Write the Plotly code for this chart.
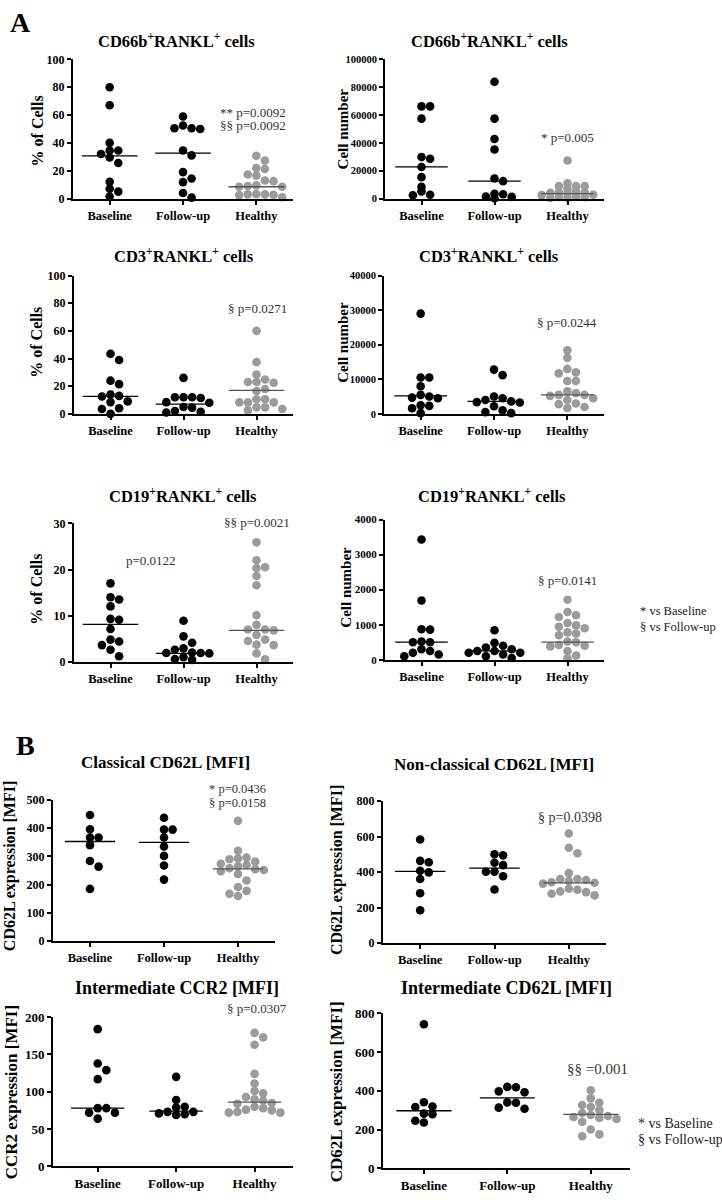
import plotly.graph_objects as go

W, H = 722, 1200
groups = ["Baseline", "Follow-up", "Healthy"]

# ---------------- data ----------------
p1_baseline = [80, 67, 40, 34.5, 34.5, 32, 29.5, 25.5, 12, 7, 5, 1.5]
p1_followup = [59, 52.5, 50.5, 50, 50.5, 34.5, 31, 19, 14.4, 11.8, 4, 0.7]
p1_healthy = [30.7, 27.4, 22, 21.3, 17.3, 16.5, 13, 12.5, 9.5, 9, 8.5, 8.5, 3.2, 3, 3, 2.8, 2.5, 1]
p1_median = [30.7, 32.7, 8.5]

p2_baseline = [66200, 66200, 57400, 29800, 28600, 22700, 15400, 8500, 5200, 2800, 2400]
p2_followup = [83900, 57400, 42800, 35200, 14400, 12500, 3500, 3100, 1400, 1200, 200]
p2_healthy = [27400, 10900, 9000, 9000, 9000, 7100, 5500, 4500, 4300, 4200, 4000, 2800, 2500, 1500, 1200, 1000, 700, 400]
p2_median = [22700, 12500, 3500]

p3_baseline = [43.5, 39, 24, 21.5, 14, 13, 12.5, 9, 8.5, 4, 3.5, 0]
p3_followup = [26, 12, 12, 12, 11.5, 8.5, 8, 5, 4.5, 2, 1.5, 1]
p3_healthy = [60, 37.4, 28.4, 24.8, 23, 23, 22.5, 18, 16.5, 10.6, 10.6, 8.3, 8.3, 8.3, 4.7, 4.7, 3.5, 2.5]
p3_median = [12.7, 7, 17]

p4_baseline = [29000, 10500, 10500, 8000, 5500, 5000, 4700, 4500, 2500, 2300, 1600, 200]
p4_followup = [12800, 11200, 5000, 4500, 4000, 3600, 3400, 3300, 2200, 1000, 500, 200]
p4_healthy = [18400, 16200, 13000, 12000, 11700, 9500, 9500, 6500, 6000, 5500, 5500, 5200, 4500, 4000, 3000, 2800, 2000, 1700]
p4_median = [5200, 3600, 5500]

p5_baseline = [17, 14, 13.5, 12, 9.3, 9.1, 7.1, 4.8, 4.4, 3.6, 2.6, 1.2]
p5_followup = [8.9, 5.5, 4.1, 2.9, 2.6, 2.0, 1.9, 1.9, 1.8, 1.0, 0.6, 0.4]
p5_healthy = [25.9, 22, 20.5, 20.3, 18.6, 16.6, 10.1, 8, 7, 7, 6.8, 5.8, 4.8, 4.5, 3.7, 3.6, 1.8, 0.5]
p5_median = [8.1, 1.8, 6.8]

p6_baseline = [3430, 1690, 870, 860, 520, 500, 500, 300, 250, 200, 150, 100]
p6_followup = [840, 480, 400, 350, 300, 250, 250, 200, 200, 150, 100, 50]
p6_healthy = [1710, 1360, 1270, 1220, 1050, 980, 940, 900, 780, 750, 700, 520, 500, 420, 400, 380, 250, 120, 40]
p6_median = [500, 250, 500]

p7_baseline = [447, 396, 367, 367, 340, 284, 264, 185]
p7_followup = [437, 395, 395, 367, 335, 302, 268, 218]
p7_healthy = [426, 320, 296, 293, 290, 282, 274, 270, 265, 258, 255, 252, 248, 238, 215, 192, 178, 168, 160]
p7_median = [353, 350, 256]

p8_baseline = [583, 463, 455, 407, 398, 361, 281, 185]
p8_followup = [500, 494, 452, 439, 402, 402, 376, 302]
p8_healthy = [617, 537, 506, 394, 361, 361, 355, 350, 343, 340, 335, 306, 300, 291, 287, 278, 269]
p8_median = [404, 422, 339]

p9_baseline = [184, 138, 129, 117, 78, 78, 72, 72, 64]
p9_followup = [120, 89, 80, 79, 73, 73, 71, 70, 69]
p9_healthy = [179, 173, 163, 124, 111, 101, 98, 93, 90, 88, 85, 84, 80, 78, 76, 75, 73, 72, 72]
p9_median = [78, 74, 86]

p10_baseline = [743, 341, 319, 316, 282, 279, 245, 236]
p10_followup = [420, 418, 397, 392, 340, 338, 313, 307]
p10_healthy = [403, 361, 338, 327, 316, 300, 285, 275, 270, 265, 260, 255, 240, 200, 175, 165]
p10_median = [297, 363, 278]

y_ticks_pct = [0, 20, 40, 60, 80, 100]
y_ticks_p2 = [0, 20000, 40000, 60000, 80000, 100000]
y_ticks_p4 = [0, 10000, 20000, 30000, 40000]
y_ticks_p5 = [0, 10, 20, 30]
y_ticks_p6 = [0, 1000, 2000, 3000, 4000]
y_ticks_p7 = [0, 100, 200, 300, 400, 500]
y_ticks_800 = [0, 200, 400, 600, 800]
y_ticks_p9 = [0, 50, 100, 150, 200]

# ---------------- layout of panels (pixel geometry) ----------------
SUP = "<sup>+</sup>"
panels = [
    dict(d=(p1_baseline, p1_followup, p1_healthy), m=p1_median, ticks=y_ticks_pct, yfs=12, ov=0.8,
         x0=73, x1=293, yt=53, yb=194, xr=(-0.5, 2.5), hw=0.38,
         title="CD66b" + SUP + "RANKL" + SUP + " cells", tpos=(176, 34), tsize=16.5,
         ytitle="% of Cells", ytpos=(37, 126), ytsize=16,
         notes=[("** p=0.0092", 288, 107, "right", 13), ("§§ p=0.0092", 288, 120, "right", 13)]),
    dict(d=(p2_baseline, p2_followup, p2_healthy), m=p2_median, ticks=y_ticks_p2, yfs=10.5, ov=0.5,
         x0=385, x1=604, yt=53, yb=194, xr=(-0.5, 2.5), hw=0.36,
         title="CD66b" + SUP + "RANKL" + SUP + " cells", tpos=(490, 34), tsize=16.5,
         ytitle="Cell number", ytpos=(343, 124), ytsize=15,
         notes=[("* p=0.005", 567, 132, "center", 13)]),
    dict(d=(p3_baseline, p3_followup, p3_healthy), m=p3_median, ticks=y_ticks_pct, yfs=12, ov=0.86,
         x0=74, x1=293, yt=272, yb=412, xr=(-0.5, 2.5), hw=0.38,
         title="CD3" + SUP + "RANKL" + SUP + " cells", tpos=(184, 252), tsize=16.5,
         ytitle="% of Cells", ytpos=(37, 340), ytsize=16,
         notes=[("§ p=0.0271", 257, 305, "center", 13)]),
    dict(d=(p4_baseline, p4_followup, p4_healthy), m=p4_median, ticks=y_ticks_p4, yfs=10.5, ov=0.86,
         x0=384, x1=604, yt=272, yb=412, xr=(-0.5, 2.5), hw=0.36,
         title="CD3" + SUP + "RANKL" + SUP + " cells", tpos=(489, 252), tsize=16.5,
         ytitle="Cell number", ytpos=(343, 340), ytsize=15,
         notes=[("§ p=0.0244", 567, 320, "center", 13)]),
    dict(d=(p5_baseline, p5_followup, p5_healthy), m=p5_median, ticks=y_ticks_p5, yfs=12, ov=0.86,
         x0=74, x1=293, yt=523, yb=663, xr=(-0.5, 2.5), hw=0.38,
         title="CD19" + SUP + "RANKL" + SUP + " cells", tpos=(183, 495), tsize=16.5,
         ytitle="% of Cells", ytpos=(37, 590), ytsize=16,
         notes=[("p=0.0122", 151, 561, "center", 13), ("§§ p=0.0021", 257, 522, "center", 13)]),
    dict(d=(p6_baseline, p6_followup, p6_healthy), m=p6_median, ticks=y_ticks_p6, yfs=11, ov=0.86,
         x0=385, x1=604, yt=519, yb=661, xr=(-0.5, 2.5), hw=0.36,
         title="CD19" + SUP + "RANKL" + SUP + " cells", tpos=(492, 495), tsize=16.5,
         ytitle="Cell number", ytpos=(346, 588), ytsize=15,
         notes=[("§ p=0.0141", 567, 581, "center", 13)]),
    dict(d=(p7_baseline, p7_followup, p7_healthy), m=p7_median, ticks=y_ticks_p7, yfs=12, ov=0.86,
         x0=53, x1=275, yt=803, yb=946, xr=(-0.5, 2.5), hw=0.34,
         title="Classical CD62L [MFI]", tpos=(165, 765), tsize=17,
         ytitle="CD62L expression [MFI]", ytpos=(10, 870), ytsize=16,
         notes=[("* p=0.0436", 268, 792, "right", 12.5), ("§ p=0.0158", 268, 806, "right", 12.5)]),
    dict(d=(p8_baseline, p8_followup, p8_healthy), m=p8_median, ticks=y_ticks_800, yfs=12, ov=0.86,
         x0=383, x1=606, yt=804, yb=948, xr=(-0.5, 2.5), hw=0.34,
         title="Non-classical CD62L [MFI]", tpos=(494, 767), tsize=17,
         ytitle="CD62L expression [MFI]", ytpos=(337, 874), ytsize=16,
         notes=[("§ p=0.0398", 570, 821, "center", 14)]),
    dict(d=(p9_baseline, p9_followup, p9_healthy), m=p9_median, ticks=y_ticks_p9, yfs=13, ov=0.86,
         x0=53, x1=293, yt=1023, yb=1174, xr=(-0.57, 2.49), hw=0.34,
         title="Intermediate CCR2 [MFI]", tpos=(177, 993), tsize=18,
         ytitle="CCR2 expression [MFI]", ytpos=(11, 1099), ytsize=17,
         notes=[("§ p=0.0307", 257, 1014, "center", 13)]),
    dict(d=(p10_baseline, p10_followup, p10_healthy), m=p10_median, ticks=y_ticks_800, yfs=13, ov=0.86,
         x0=383, x1=630, yt=1019, yb=1176, xr=(-0.49, 2.47), hw=0.33,
         title="Intermediate CD62L [MFI]", tpos=(506, 993), tsize=18,
         ytitle="CD62L expression [MFI]", ytpos=(336, 1099), ytsize=17,
         notes=[("§§ =0.001", 597, 1075, "center", 15)]),
]

DOT = 8.6
COLORS = ["#000000", "#000000", "#9b9b9b"]
LINECOLORS = ["#000000", "#000000", "#555555"]
SERIF = "Liberation Serif"


def swarm(values, center, ppx, ppy, ov):
    """Simple beeswarm: spread colliding points horizontally (pixel space)."""
    placed = []
    xs = [0.0] * len(values)
    order = sorted(range(len(values)), key=lambda i: -values[i])
    cands = [0]
    for j in range(1, 15):
        cands += [j, -j]
    for i in order:
        ypx = values[i] * ppy
        for c in cands:
            xpx = c * DOT
            if all((xpx - a) ** 2 + (ypx - b) ** 2 >= (DOT * ov) ** 2 for a, b in placed):
                break
        placed.append((xpx, ypx))
        xs[i] = center + xpx / ppx
    return xs


fig = go.Figure()
annotations = []
layout = {}

for k, p in enumerate(panels, start=1):
    xa = "x" if k == 1 else f"x{k}"
    ya = "y" if k == 1 else f"y{k}"
    ymax = p["ticks"][-1]
    ppx = (p["x1"] - p["x0"]) / (p["xr"][1] - p["xr"][0])
    ppy = (p["yb"] - p["yt"]) / ymax
    for g, vals in enumerate(p["d"]):
        xs = swarm(vals, g, ppx, ppy, p["ov"])
        fig.add_trace(go.Scatter(
            x=xs, y=vals, mode="markers", xaxis=xa, yaxis=ya,
            marker=dict(size=DOT, color=COLORS[g], line=dict(width=0)),
            cliponaxis=False, showlegend=False, hoverinfo="y"))
        fig.add_trace(go.Scatter(
            x=[g - p["hw"], g + p["hw"]], y=[p["m"][g], p["m"][g]], mode="lines",
            xaxis=xa, yaxis=ya, line=dict(color=LINECOLORS[g], width=1.3),
            cliponaxis=False, showlegend=False, hoverinfo="skip"))

    kx = "xaxis" if k == 1 else f"xaxis{k}"
    ky = "yaxis" if k == 1 else f"yaxis{k}"
    layout[kx] = dict(
        domain=[p["x0"] / W, p["x1"] / W], range=list(p["xr"]), anchor=ya,
        tickmode="array", tickvals=[0, 1, 2], ticktext=groups,
        showline=True, linecolor="black", linewidth=2, ticks="outside",
        ticklen=4, tickwidth=1.5, tickcolor="black", showgrid=False, zeroline=False,
        tickfont=dict(family=SERIF, size=13 if k >= 9 else 12.5, color="black", weight="bold"),
        fixedrange=True)
    layout[ky] = dict(
        domain=[1 - p["yb"] / H, 1 - p["yt"] / H], range=[0, ymax], anchor=xa,
        tickmode="array", tickvals=p["ticks"], ticktext=[str(t) for t in p["ticks"]],
        showline=True, linecolor="black", linewidth=2, ticks="outside",
        ticklen=4, tickwidth=1.5, tickcolor="black", showgrid=False, zeroline=False,
        tickfont=dict(family=SERIF, size=p["yfs"], color="black", weight="bold"), fixedrange=True)

    annotations.append(dict(
        text=p["title"], x=p["tpos"][0] / W, y=1 - p["tpos"][1] / H, xref="paper", yref="paper",
        showarrow=False, xanchor="center", yanchor="middle",
        font=dict(family=SERIF, size=p["tsize"], color="black", weight="bold")))
    annotations.append(dict(
        text=p["ytitle"], x=p["ytpos"][0] / W, y=1 - p["ytpos"][1] / H, xref="paper", yref="paper",
        showarrow=False, xanchor="center", yanchor="middle", textangle=-90,
        font=dict(family=SERIF, size=p["ytsize"], color="black", weight="bold")))
    for txt, nx, ny, anc, sz in p["notes"]:
        annotations.append(dict(
            text=txt, x=nx / W, y=1 - ny / H, xref="paper", yref="paper",
            showarrow=False, xanchor=anc, yanchor="middle",
            font=dict(family=SERIF, size=sz, color="#333333")))

# section letters and keys
for txt, lx, ly in [("A", 20, 16), ("B", 25, 748)]:
    annotations.append(dict(text=txt, x=lx / W, y=1 - ly / H, xref="paper", yref="paper",
                            showarrow=False, xanchor="center", yanchor="middle",
                            font=dict(family=SERIF, size=28, color="black", weight="bold")))
for txt, lx, ly, sz in [("* vs Baseline", 638, 612, 12.5), ("§ vs Follow-up", 638, 628, 12.5),
                        ("* vs Baseline", 636, 1131, 14), ("§ vs Follow-up", 636, 1147, 14)]:
    annotations.append(dict(text=txt, x=lx / W, y=1 - ly / H, xref="paper", yref="paper",
                            showarrow=False, xanchor="left", yanchor="middle",
                            font=dict(family=SERIF, size=sz, color="#222222")))

fig.update_layout(
    width=W, height=H, margin=dict(l=0, r=0, t=0, b=0),
    paper_bgcolor="white", plot_bgcolor="white",
    annotations=annotations, showlegend=False, **layout)

fig.write_html("out.html", config={"displayModeBar": False},
               post_script="document.body.style.margin='0px';")
